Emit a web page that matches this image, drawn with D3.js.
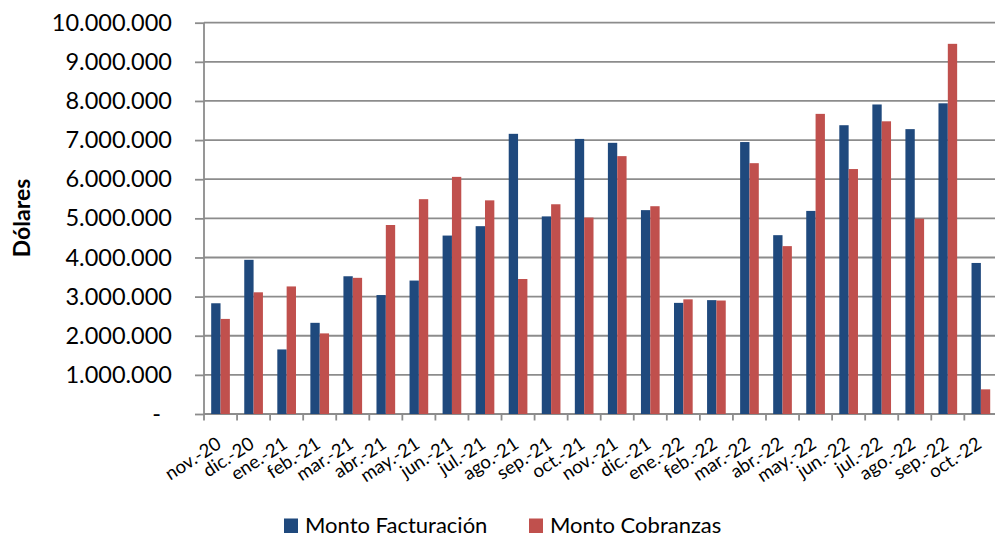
<!DOCTYPE html>
<html><head><meta charset="utf-8">
<script src="https://cdn.jsdelivr.net/npm/d3@7"></script>
<style>body{margin:0;background:#fff}svg{display:block}text{font-family:Lato,"Open Sans",sans-serif;fill:#000}</style>
</head><body>
<svg id="c" width="995" height="537"></svg>
<script>
const categories = ["nov.-20","dic.-20","ene.-21","feb.-21","mar.-21","abr.-21","may.-21","jun.-21","jul.-21","ago.-21","sep.-21","oct.-21","nov.-21","dic.-21","ene.-22","feb.-22","mar.-22","abr.-22","may.-22","jun.-22","jul.-22","ago.-22","sep.-22","oct.-22"];
const facturacion = [2830000,3940000,1650000,2330000,3520000,3040000,3410000,4560000,4800000,7160000,5050000,7030000,6930000,5210000,2840000,2910000,6950000,4570000,5190000,7380000,7910000,7280000,7940000,3860000];
const cobranzas = [2430000,3110000,3260000,2060000,3480000,4830000,5490000,6060000,5460000,3450000,5360000,5020000,6590000,5310000,2930000,2900000,6410000,4290000,7670000,6260000,7480000,4990000,9460000,630000];
const seriesNames = ["Monto Facturación","Monto Cobranzas"];
const colors = ["#1F497D","#C0504D"];
const yTicks = [0,1000000,2000000,3000000,4000000,5000000,6000000,7000000,8000000,9000000,10000000];
const yTitle = "Dólares";

const svg = d3.select("#c");
const L = 204, R = 997.4, T = 22.7, B = 414;
const x = d3.scaleBand().domain(categories).range([L, R]).paddingInner(0.435).paddingOuter(0.2175);
const xs = d3.scaleBand().domain([0,1]).range([0, x.bandwidth()]);
const y = d3.scaleLinear().domain([0, 10000000]).range([B, T]);
const loc = d3.formatLocale({decimal: ",", thousands: ".", grouping: [3], currency: ["$", ""]});
const f = loc.format(",.0f");
const gridColor = "#8c8c8c";

// gridlines
svg.append("g").selectAll("line").data(yTicks).join("line")
  .attr("x1", L).attr("x2", 995).attr("y1", d => y(d)).attr("y2", d => y(d))
  .attr("stroke", gridColor).attr("stroke-width", 1.8);

// bars
[facturacion, cobranzas].forEach((vals, si) => {
  svg.append("g").selectAll("rect").data(vals).join("rect")
    .attr("x", (d, i) => x(categories[i]) + xs(si))
    .attr("width", xs.bandwidth())
    .attr("y", d => y(d))
    .attr("height", d => y(0) - y(d))
    .attr("fill", colors[si]);
});

// y axis
const yAxis = svg.append("g").attr("transform", `translate(${L},0)`)
  .call(d3.axisLeft(y).tickValues(yTicks).tickSize(9).tickPadding(23)
    .tickFormat(d => d === 0 ? "-" : f(d)));
yAxis.select(".domain").remove();
yAxis.selectAll(".tick line").attr("stroke", gridColor).attr("stroke-width", 1.8);
yAxis.selectAll(".tick text").style("font-size", "23.5px").attr("fill", "#000")
  .filter(d => d === 0).attr("dx", -11);
svg.append("line").attr("x1", L).attr("x2", L).attr("y1", T).attr("y2", B + 6.5)
  .attr("stroke", gridColor).attr("stroke-width", 1.8);

// x axis boundary ticks
const off = (x.step() - x.bandwidth()) / 2;
svg.append("g").selectAll("line").data(categories).join("line")
  .attr("x1", d => x(d) + x.bandwidth() + off).attr("x2", d => x(d) + x.bandwidth() + off)
  .attr("y1", B).attr("y2", B + 6.5)
  .attr("stroke", gridColor).attr("stroke-width", 1.8);

// x labels
const xAxis = svg.append("g").attr("transform", `translate(0,${B})`)
  .call(d3.axisBottom(x).tickSize(0).tickPadding(0));
xAxis.select(".domain").remove();
xAxis.selectAll(".tick text")
  .attr("text-anchor", "end").attr("dy", null).attr("y", 0)
  .attr("transform", "translate(2,33) rotate(-33)")
  .style("font-size", "18.5px").attr("fill", "#000");

// y title
svg.append("text").attr("transform", "translate(30,218) rotate(-90)")
  .attr("text-anchor", "middle").style("font-size", "23px").style("font-weight", "bold")
  .text(yTitle);

// legend
const legX = [284, 529];
const lg = svg.append("g").selectAll("g").data(seriesNames).join("g")
  .attr("transform", (d, i) => `translate(${legX[i]},0)`);
lg.append("rect").attr("x", 0).attr("y", 518.5).attr("width", 14).attr("height", 14.5)
  .attr("fill", (d, i) => colors[i]);
lg.append("text").attr("x", 21).attr("y", 533).style("font-size", "22px").text(d => d);
</script>
</body></html>
